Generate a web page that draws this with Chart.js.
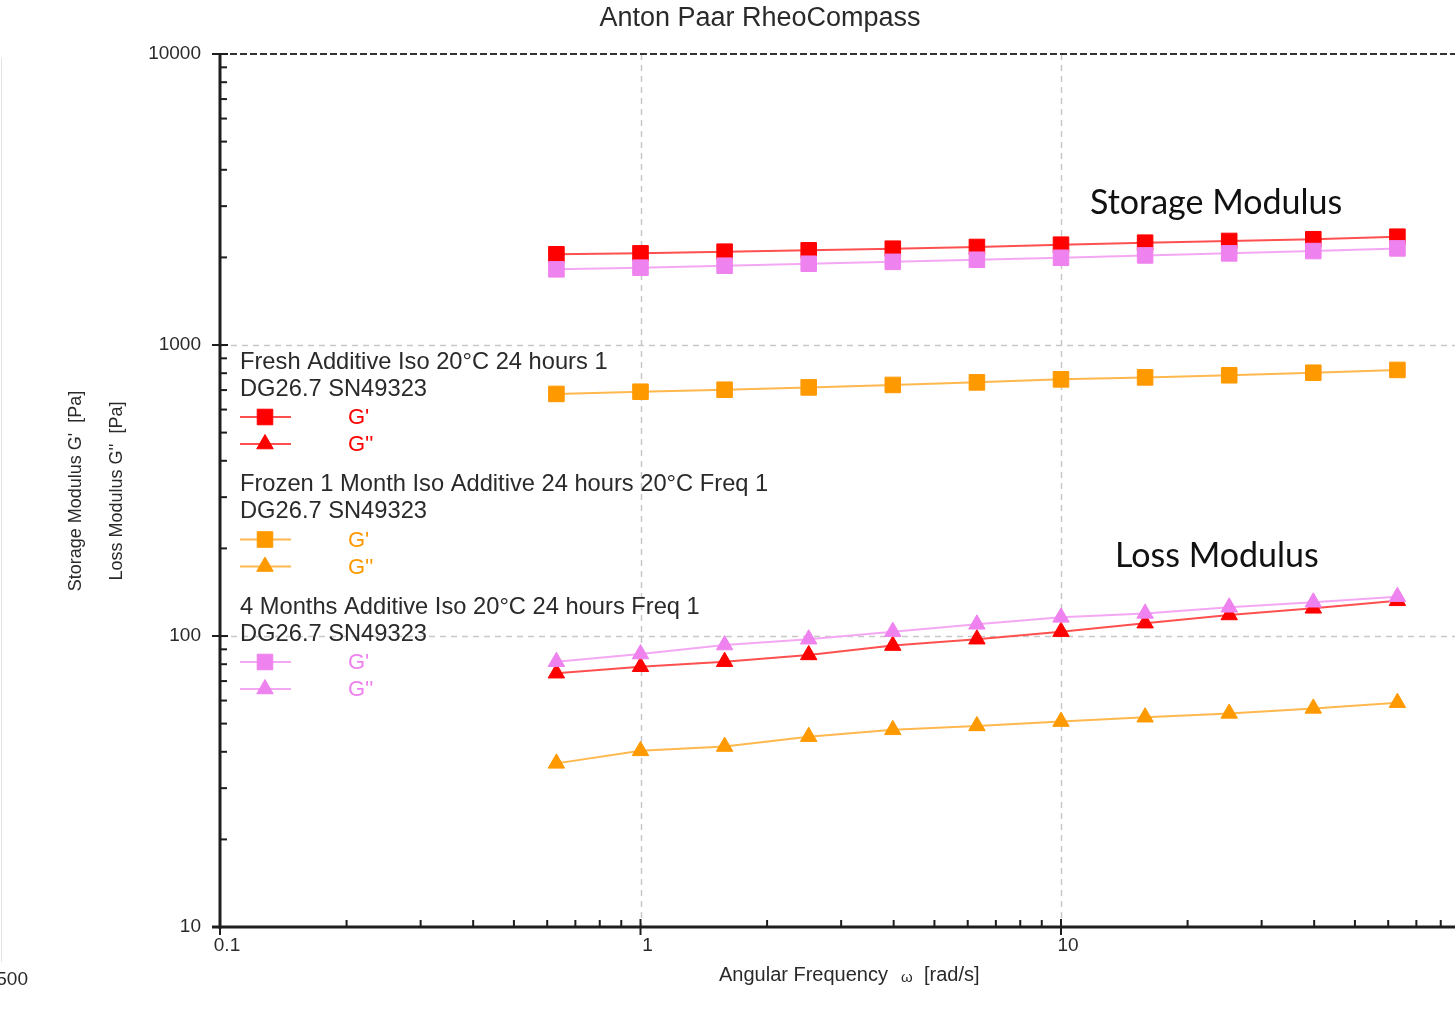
<!DOCTYPE html>
<html><head><meta charset="utf-8">
<script src="https://cdn.jsdelivr.net/npm/chart.js@4.4.0/dist/chart.umd.min.js"></script>
<style>
html,body{margin:0;padding:0;background:#fff;overflow:hidden;width:1455px;height:1018px}
canvas{display:block}
</style></head>
<body><canvas id="c" width="1500" height="1018"></canvas>
<script>
// ---- data ----
const frequencies   = [0.631, 1, 1.585, 2.512, 3.981, 6.31, 10, 15.85, 25.12, 39.81, 63.1];
const freshStorage  = [2050, 2065, 2093, 2115, 2143, 2172, 2212, 2247, 2278, 2309, 2356];
const freshLoss     = [74.5, 78.4, 81.6, 86.1, 92.7, 97.5, 103.5, 110.7, 118.1, 124.5, 132.1];
const frozenStorage = [679, 691, 702, 715, 729, 744, 762, 774, 787, 803, 821];
const frozenLoss    = [36.5, 40.3, 41.7, 45.1, 47.6, 49.1, 50.8, 52.6, 54.2, 56.4, 59.0];
const monthsStorage = [1820, 1844, 1873, 1902, 1931, 1963, 1994, 2032, 2065, 2103, 2148];
const monthsLoss    = [81.6, 86.7, 93.1, 97.5, 103.5, 109.7, 115.9, 119.6, 125.5, 130.6, 136.5];

const xTickValues = [0.1, 1, 10];
const xTickLabels = ['0.1', '1', '10'];
const yTickValues = [10, 100, 1000, 10000];
const yTickLabels = ['10', '100', '1000', '10000'];

const groupNames = [
  'Fresh Additive Iso 20°C 24 hours 1',
  'Frozen 1 Month Iso Additive 24 hours 20°C Freq 1',
  '4 Months Additive Iso 20°C 24 hours Freq 1'
];
const sampleName = 'DG26.7 SN49323';
const quantityNames = ["G'", "G''"];
const chartTitle = 'Anton Paar RheoCompass';
const xTitle = ['Angular Frequency', 'ω', '[rad/s]'];
const yTitles = ["Storage Modulus G'  [Pa]", "Loss Modulus G''  [Pa]"];
const annotations = ['Storage Modulus', 'Loss Modulus'];

// ---- styles ----
const markerColors = ['#ff0000', '#ff9900', '#ee82ee'];
const lineColors   = ['#ff5050', '#ffb84d', '#f4a8f4'];
const SQ_R = 11, TRI_R = 9.5;
const SANS = '"Liberation Sans", Arial, sans-serif';
const TEXT = '#2a2a2a';

function makeSet(values, g, style, radius, order) {
  return {
    data: frequencies.map((f, i) => ({x: f, y: values[i]})),
    showLine: true, tension: 0,
    borderColor: lineColors[g], borderWidth: 2,
    backgroundColor: markerColors[g],
    pointBackgroundColor: markerColors[g], pointBorderColor: markerColors[g],
    pointBorderWidth: 1, pointStyle: style,
    pointRadius: radius, pointHoverRadius: radius,
    order: order
  };
}

const datasets = [
  makeSet(freshStorage, 0, 'rect', SQ_R, 5),
  makeSet(freshLoss, 0, 'triangle', TRI_R, 4),
  makeSet(frozenStorage, 1, 'rect', SQ_R, 3),
  makeSet(frozenLoss, 1, 'triangle', TRI_R, 2),
  makeSet(monthsStorage, 2, 'rect', SQ_R, 1),
  makeSet(monthsLoss, 2, 'triangle', TRI_R, 0)
];

function minorValues(lo, hi) {
  const out = [];
  for (let d = lo; d < hi; d *= 10) for (let k = 2; k <= 9; k++) out.push(k * d);
  return out;
}

const decor = {
  id: 'decor',
  beforeDatasetsDraw(chart) {
    const ctx = chart.ctx, x = chart.scales.x, y = chart.scales.y, a = chart.chartArea;
    ctx.save();
    ctx.strokeStyle = '#c8c8c8'; ctx.lineWidth = 1.5; ctx.setLineDash([6, 5]);
    [1, 10].forEach(v => { const px = Math.round(x.getPixelForValue(v)) + 0.5;
      ctx.beginPath(); ctx.moveTo(px, a.top); ctx.lineTo(px, a.bottom); ctx.stroke(); });
    [100, 1000].forEach(v => { const py = Math.round(y.getPixelForValue(v)) + 0.5;
      ctx.beginPath(); ctx.moveTo(a.left, py); ctx.lineTo(a.right, py); ctx.stroke(); });
    ctx.strokeStyle = '#333'; ctx.lineWidth = 2; ctx.setLineDash([7, 3]);
    ctx.beginPath(); ctx.moveTo(a.left, a.top); ctx.lineTo(a.right, a.top); ctx.stroke();
    ctx.restore();
  },
  afterDraw(chart) {
    const ctx = chart.ctx, x = chart.scales.x, y = chart.scales.y, a = chart.chartArea;
    ctx.save();
    ctx.strokeStyle = '#1e1e1e'; ctx.lineWidth = 3; ctx.setLineDash([]);
    ctx.beginPath(); ctx.moveTo(a.left, a.top - 1); ctx.lineTo(a.left, a.bottom + 2); ctx.stroke();
    ctx.beginPath(); ctx.moveTo(a.left - 8, a.bottom); ctx.lineTo(a.right, a.bottom); ctx.stroke();
    ctx.lineWidth = 2;
    minorValues(10, 10000).forEach(v => { const py = y.getPixelForValue(v);
      ctx.beginPath(); ctx.moveTo(a.left, py); ctx.lineTo(a.left + 7, py); ctx.stroke(); });
    yTickValues.forEach(v => { const py = y.getPixelForValue(v);
      ctx.beginPath(); ctx.moveTo(a.left - 8, py); ctx.lineTo(a.left + 8, py); ctx.stroke(); });
    minorValues(0.1, 100).forEach(v => { const px = x.getPixelForValue(v);
      ctx.beginPath(); ctx.moveTo(px, a.bottom); ctx.lineTo(px, a.bottom - 7); ctx.stroke(); });
    xTickValues.forEach(v => { const px = x.getPixelForValue(v);
      ctx.beginPath(); ctx.moveTo(px, a.bottom + 8); ctx.lineTo(px, a.bottom - 8); ctx.stroke(); });

    ctx.strokeStyle = '#e4e4e4'; ctx.lineWidth = 1;
    ctx.beginPath(); ctx.moveTo(1.5, 58); ctx.lineTo(1.5, 962); ctx.stroke();

    ctx.fillStyle = TEXT; ctx.textBaseline = 'middle'; ctx.textAlign = 'center';
    ctx.font = '27px ' + SANS;
    ctx.fillText(chartTitle, 760, 19);

    ctx.textAlign = 'left'; ctx.font = '20px ' + SANS;
    ctx.fillText(xTitle[0], 719, 975);
    ctx.font = '15px ' + SANS; ctx.fillText(xTitle[1], 901, 978);
    ctx.font = '20px ' + SANS; ctx.fillText(xTitle[2], 924, 975);

    [[76, yTitles[0]], [117, yTitles[1]]].forEach(([cx, t]) => {
      ctx.save(); ctx.translate(cx, 491); ctx.rotate(-Math.PI / 2);
      ctx.textAlign = 'center'; ctx.font = '18px ' + SANS; ctx.fillText(t, 0, 0); ctx.restore();
    });

    ctx.textAlign = 'right'; ctx.font = '19px ' + SANS; ctx.fillStyle = TEXT;
    ctx.fillText('500', 28, 980);

    const styles = ['rect', 'triangle'];
    groupNames.forEach((name, g) => {
      const top = 362 + g * 122.5;
      ctx.fillStyle = TEXT; ctx.textAlign = 'left'; ctx.font = '23.7px ' + SANS;
      ctx.fillText(name, 240, top);
      ctx.fillText(sampleName, 240, top + 27);
      quantityNames.forEach((q, k) => {
        const cy = top + 55 + k * 27;
        ctx.strokeStyle = lineColors[g]; ctx.lineWidth = 2;
        ctx.beginPath(); ctx.moveTo(240, cy); ctx.lineTo(291, cy); ctx.stroke();
        ctx.fillStyle = markerColors[g]; ctx.strokeStyle = markerColors[g]; ctx.lineWidth = 1;
        Chart.helpers.drawPoint(ctx, {pointStyle: styles[k], radius: k ? TRI_R : SQ_R, rotation: 0, borderWidth: 1}, 265, cy);
        ctx.fillStyle = markerColors[g]; ctx.font = '22px ' + SANS;
        ctx.fillText(q, 348, cy + 1);
      });
    });

    ctx.fillStyle = '#111'; ctx.textAlign = 'left'; ctx.font = '34px Lato, "Open Sans", sans-serif';
    ctx.fillText(annotations[0], 1090, 203);
    ctx.fillText(annotations[1], 1115, 556);
    ctx.restore();
  }
};

new Chart(document.getElementById('c'), {
  type: 'scatter',
  data: {datasets},
  options: {
    responsive: false, animation: false, events: [],
    layout: {padding: {top: 54, right: 18.5, left: 0, bottom: 0}},
    plugins: {legend: {display: false}, title: {display: false}, tooltip: {enabled: false}},
    scales: {
      x: {
        type: 'logarithmic', min: 0.1, max: 100,
        afterBuildTicks: s => { s.ticks = xTickValues.map(v => ({value: v})); },
        afterFit: s => { s.height = 91; },
        grid: {display: false, drawTicks: false}, border: {display: false},
        ticks: {
          callback: v => { const i = xTickValues.indexOf(v); return i >= 0 ? xTickLabels[i] : ''; },
          color: TEXT, font: {family: SANS, size: 19}, padding: 7, labelOffset: 7,
          maxRotation: 0, autoSkip: false
        }
      },
      y: {
        type: 'logarithmic', min: 10, max: 10000,
        afterBuildTicks: s => { s.ticks = yTickValues.map(v => ({value: v})); },
        afterFit: s => { s.width = 220; },
        grid: {display: false, drawTicks: false}, border: {display: false},
        ticks: {
          callback: v => { const i = yTickValues.indexOf(v); return i >= 0 ? yTickLabels[i] : ''; },
          color: TEXT, font: {family: SANS, size: 19}, padding: 19, autoSkip: false
        }
      }
    }
  },
  plugins: [decor]
});
</script>
</body></html>
